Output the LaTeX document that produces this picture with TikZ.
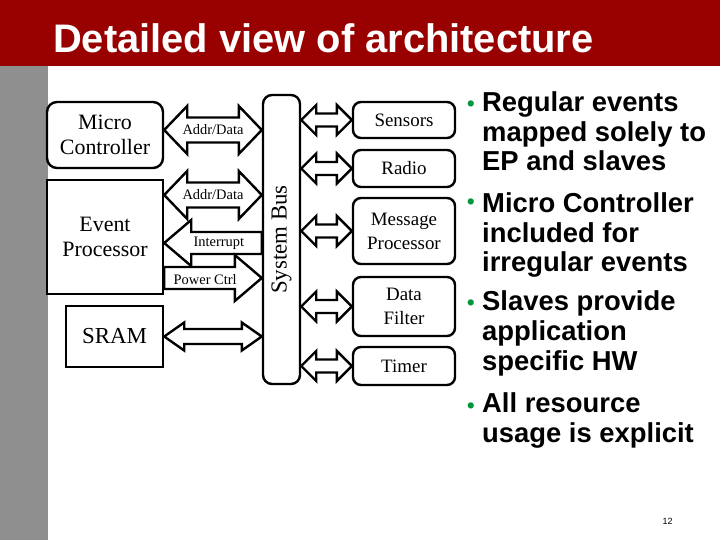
\documentclass[tikz,border=0pt]{standalone}
\usepackage{fontspec}
\setmainfont{Liberation Serif}
\newfontfamily\arial{Liberation Sans}
\usetikzlibrary{calc}

\definecolor{slidered}{RGB}{153,0,0}
\definecolor{slidegray}{RGB}{143,143,143}
\definecolor{bulletgreen}{RGB}{0,150,60}

% block arrows: tail, tip, shaft half width, head half width, head length
\newcommand\dblarrow[5]{%
  \draw[blk] let \p1=(#1), \p2=(#2) in
    (\x1,\y1) -- (\x1+#5,\y1+#4) -- (\x1+#5,\y1+#3) -- (\x2-#5,\y1+#3)
    -- (\x2-#5,\y1+#4) -- (\x2,\y1) -- (\x2-#5,\y1-#4) -- (\x2-#5,\y1-#3)
    -- (\x1+#5,\y1-#3) -- (\x1+#5,\y1-#4) -- cycle;}
\newcommand\sglarrow[5]{%
  \draw[blk] let \p1=(#1), \p2=(#2), \n1={\x2-sign(\x2-\x1)*#5} in
    (\x1,\y1+#3) -- (\n1,\y1+#3) -- (\n1,\y1+#4) -- (\x2,\y1)
    -- (\n1,\y1-#4) -- (\n1,\y1-#3) -- (\x1,\y1-#3) -- cycle;}

\tikzset{
  unit/.style={draw,line width=2.4bp,inner sep=0pt,align=center,
    font=\fontsize{22}{25}\selectfont},
  slave/.style={unit,rounded corners=8bp,minimum width=102bp,
    font=\fontsize{19}{24}\selectfont},
  blk/.style={draw,fill=white,line width=2.4bp,line join=miter},
  lbl/.style={inner sep=0pt,font=\fontsize{14.5}{14}\selectfont},
  pt/.style={inner sep=0pt,align=left,font=\arial\bfseries\fontsize{27.5}{30}\selectfont},
  dot/.style={inner sep=0pt,text=bulletgreen,font=\arial\fontsize{23}{23}\selectfont}
}

\begin{document}
\begin{tikzpicture}[x=1bp,y=-1bp]

\useasboundingbox (0,0) rectangle (720,540);
\fill[white] (0,0) rectangle (720,540);
\fill[slidered] (0,0) rectangle (720,66);
\fill[slidegray] (0,66) rectangle (48,540);

\node[anchor=base west,inner sep=0pt,text=white,
  font=\arial\bfseries\fontsize{40}{40}\selectfont] (title) at (53,53)
  {Detailed view of architecture};

% masters
\node[unit,rounded corners=10bp,minimum width=116bp,minimum height=66bp]
  (mc) at (105,135) {Micro\\Controller};
\node[unit,minimum width=116bp,minimum height=114bp]
  (ep) at (105,237) {Event\\Processor};
\node[unit,minimum width=97bp,minimum height=61bp,font=\fontsize{23}{25}\selectfont]
  (sram) at (114.5,336.5) {SRAM};
\node[unit,rounded corners=9bp,minimum width=37bp,minimum height=289bp,
  font=\fontsize{23}{25}\selectfont]
  (bus) at (281.5,239.5) {\rotatebox{90}{System Bus}};

% slaves
\node[slave,minimum height=36bp] (sensors) at (404,120) {Sensors};
\node[slave,minimum height=37bp] (radio) at (404,168.5) {Radio};
\node[slave,minimum height=66bp] (msgp) at (404,231) {Message\\Processor};
\node[slave,minimum height=59bp] (filter) at (404,306.5) {Data\\Filter};
\node[slave,minimum height=38bp] (timer) at (404,366) {Timer};

\coordinate (ad1) at ([yshift=5bp]mc.east);
\coordinate (ad2) at ([yshift=42bp]ep.east);
\coordinate (int) at ([yshift=-6bp]ep.east);
\coordinate (pwr) at ([yshift=-41bp]ep.east);

\dblarrow{ad1}{bus.west |- ad1}{12.5bp}{24bp}{23bp}
\dblarrow{ad2}{bus.west |- ad2}{12.5bp}{24bp}{23bp}
\sglarrow{bus.west |- int}{int}{11bp}{23bp}{27bp}
\sglarrow{pwr}{bus.west |- pwr}{11bp}{23bp}{27bp}
\dblarrow{sram.east}{bus.west |- sram.east}{7.5bp}{14bp}{20bp}
\foreach \dev in {sensors,radio,msgp,filter,timer}
  \dblarrow{bus.east |- \dev.west}{\dev.west}{6.5bp}{15bp}{15bp};

\node[lbl] at ($(ad1)!0.5!(bus.west |- ad1)$) {Addr/Data};
\node[lbl] at ($(ad2)!0.5!(bus.west |- ad2)$) {Addr/Data};
\node[lbl] at ($(int)!0.56!(bus.west |- int)$) {Interrupt};
\node[lbl] at ([yshift=-2bp]$(pwr)!0.42!(bus.west |- pwr)$) {Power Ctrl};

% bullet points (anchored at the baseline of their last line)
\node[pt,anchor=base west] (b1) at (482,171) {Regular events\\mapped solely to\\EP and slaves};
\node[pt,anchor=base west] (b2) at (482,272) {Micro Controller\\included for\\irregular events};
\node[pt,anchor=base west] (b3) at (482,370) {Slaves provide\\application\\specific HW};
\node[pt,anchor=base west] (b4) at (482,442) {All resource\\usage is explicit};
\foreach \b/\s in {b1/59,b2/62,b3/60,b4/29}
  \node[dot,anchor=base east] at ([xshift=-7bp,yshift=\s bp]\b.base west) {•};

\node[inner sep=0pt,font=\arial\fontsize{9}{9}\selectfont] (page) at (667.5,521.5) {12};

\end{tikzpicture}
\end{document}
